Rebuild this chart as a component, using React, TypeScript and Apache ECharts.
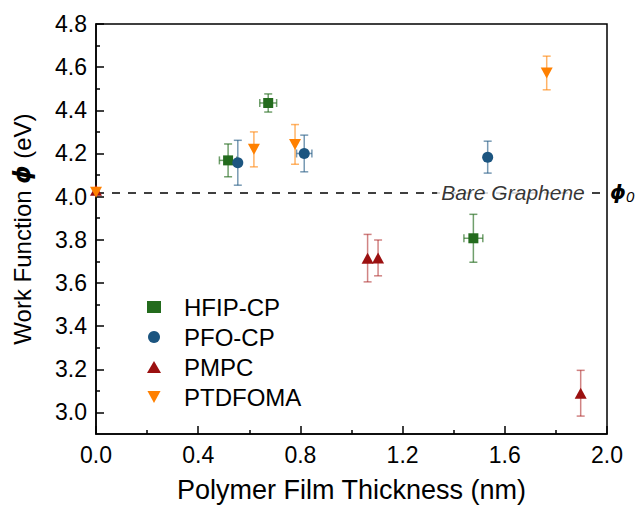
import React, { useEffect, useRef } from "react";
import * as echarts from "echarts";

const FONT = "'Liberation Sans', Arial, Helvetica, sans-serif";

// Bare graphene reference work function
const bareGraphene = 4.02;

// HFIP-CP
const hfipX = [0.517, 0.674, 1.477];
const hfipY = [4.168, 4.434, 3.807];
const hfipYErr = [0.076, 0.042, 0.111];
const hfipXErr = [0.034, 0.033, 0.037];

// PFO-CP
const pfoX = [0.555, 0.815, 1.533];
const pfoY = [4.157, 4.2, 4.183];
const pfoYErr = [0.104, 0.085, 0.074];
const pfoXErr = [0, 0.03, 0];

// PMPC
const pmpcX = [0, 1.063, 1.104, 1.897];
const pmpcY = [4.03, 3.715, 3.716, 3.089];
const pmpcYErr = [0, 0.11, 0.083, 0.106];
const pmpcXErr = [0, 0, 0, 0];

// PTDFOMA
const ptdX = [0, 0.618, 0.779, 1.764];
const ptdY = [4.02, 4.219, 4.242, 4.573];
const ptdYErr = [0, 0.081, 0.092, 0.078];
const ptdXErr = [0, 0, 0, 0];

// axis ticks
const yTicks = [3.0, 3.2, 3.4, 3.6, 3.8, 4.0, 4.2, 4.4, 4.6, 4.8];
const yMinorTicks = [3.1, 3.3, 3.5, 3.7, 3.9, 4.1, 4.3, 4.5, 4.7];
const yMin = 2.9;
const yMax = 4.8;
const xMin = 0;
const xMax = 2.0;
const xInterval = 0.4;

const names = ["HFIP-CP", "PFO-CP", "PMPC", "PTDFOMA"];
const colors = ["#236b1d", "#1c5580", "#9b1010", "#ff8000"];
const errColors = [
  "rgba(35,107,29,0.65)",
  "rgba(28,85,128,0.6)",
  "rgba(170,30,30,0.55)",
  "rgba(255,128,0,0.6)",
];
const INV_TRI = "path://M0,0L12,0L6,11Z";
const symbols = ["rect", "circle", "triangle", INV_TRI];
const symbolSizes: any[] = [10, 11, [12, 11], [12, 11]];

const groups = [
  { x: hfipX, y: hfipY, ye: hfipYErr, xe: hfipXErr },
  { x: pfoX, y: pfoY, ye: pfoYErr, xe: pfoXErr },
  { x: pmpcX, y: pmpcY, ye: pmpcYErr, xe: pmpcXErr },
  { x: ptdX, y: ptdY, ye: ptdYErr, xe: ptdXErr },
];

function errRender(color: string) {
  return (params: any, api: any) => {
    const x = api.value(0);
    const y = api.value(1);
    const ye = api.value(2);
    const xe = api.value(3);
    const cap = 4;
    const children: any[] = [];
    const style = { stroke: color, lineWidth: 1.5, fill: "none" };
    if (ye > 0) {
      const top = api.coord([x, y + ye]);
      const bot = api.coord([x, y - ye]);
      children.push({ type: "line", shape: { x1: top[0], y1: top[1], x2: bot[0], y2: bot[1] }, style });
      children.push({ type: "line", shape: { x1: top[0] - cap, y1: top[1], x2: top[0] + cap, y2: top[1] }, style });
      children.push({ type: "line", shape: { x1: bot[0] - cap, y1: bot[1], x2: bot[0] + cap, y2: bot[1] }, style });
    }
    if (xe > 0) {
      const l = api.coord([x - xe, y]);
      const r = api.coord([x + xe, y]);
      children.push({ type: "line", shape: { x1: l[0], y1: l[1], x2: r[0], y2: r[1] }, style });
      children.push({ type: "line", shape: { x1: l[0], y1: l[1] - cap, x2: l[0], y2: l[1] + cap }, style });
      children.push({ type: "line", shape: { x1: r[0], y1: r[1] - cap, x2: r[0], y2: r[1] + cap }, style });
    }
    return { type: "group", children };
  };
}

export default function App() {
  const ref = useRef<HTMLDivElement>(null);
  useEffect(() => {
    if (!ref.current) return;
    const chart = echarts.init(ref.current, null, { renderer: "svg" });

    const series: any[] = [];
    groups.forEach((g, i) => {
      series.push({
        type: "custom",
        name: names[i] + " err",
        renderItem: errRender(errColors[i]),
        data: g.x.map((xv, j) => [xv, g.y[j], g.ye[j], g.xe[j]]),
        encode: { x: 0, y: 1 },
        z: 2,
        silent: true,
      });
    });
    groups.forEach((g, i) => {
      series.push({
        type: "scatter",
        name: names[i],
        symbol: symbols[i],
        symbolSize: symbolSizes[i],
        itemStyle: { color: colors[i], opacity: 1 },
        data: g.x.map((xv, j) => [xv, g.y[j]]),
        z: 3 + i,
      });
    });
    // dashed bare-graphene line with phi_0 label
    series.push({
      type: "line",
      name: "bare",
      data: [],
      z: 1,
      markLine: {
        silent: true,
        symbol: ["none", "none"],
        lineStyle: { color: "#000", type: [8, 8], width: 1.5 },
        label: {
          show: true,
          position: "end",
          distance: 3,
          formatter: "{p|ϕ}{s|0}",
          rich: {
            p: { fontFamily: "'DejaVu Sans', sans-serif", fontWeight: "bold", fontStyle: "italic", fontSize: 20, color: "#000" },
            s: { fontFamily: FONT, fontStyle: "italic", fontSize: 15, color: "#000", verticalAlign: "bottom", padding: [8, 0, 0, 0] },
          },
        },
        data: [{ yAxis: bareGraphene }],
      },
    });
    // "Bare Graphene" label on the line
    series.push({
      type: "scatter",
      name: "bareText",
      symbolSize: 1,
      itemStyle: { color: "rgba(0,0,0,0)" },
      data: [[1.632, bareGraphene]],
      z: 10,
      silent: true,
      label: {
        show: true,
        position: "inside",
        formatter: "Bare Graphene",
        fontFamily: FONT,
        fontStyle: "italic",
        fontSize: 21,
        color: "#000",
        backgroundColor: "#fff",
        padding: [2, 4, 2, 4],
      },
    });

    chart.setOption({
      animation: false,
      grid: {
        left: 96,
        right: 31,
        top: 24,
        bottom: 72,
        show: true,
        borderColor: "#000",
        borderWidth: 1.5,
        backgroundColor: "transparent",
      },
      legend: {
        orient: "vertical",
        left: 142,
        top: 290,
        itemWidth: 14,
        itemHeight: 12,
        itemGap: 6,
        textStyle: { fontFamily: FONT, fontSize: 24, color: "#000", padding: [0, 0, 0, 18], lineHeight: 24 },
        data: names.map((n, i) => ({
          name: n,
          icon: symbols[i],
          itemStyle: { color: colors[i] },
        })),
        selectedMode: false,
      },
      xAxis: {
        type: "value",
        min: xMin,
        max: xMax,
        interval: xInterval,
        name: "Polymer Film Thickness (nm)",
        nameLocation: "middle",
        nameGap: 42,
        nameTextStyle: { fontFamily: FONT, fontSize: 27, color: "#000" },
        axisLine: { show: true, lineStyle: { color: "#000", width: 1.5 } },
        axisTick: { show: true, inside: true, length: 8, lineStyle: { color: "#000", width: 1.5 } },
        minorTick: { show: true, splitNumber: 2, length: 4, lineStyle: { color: "#000", width: 1.5 } },
        axisLabel: {
          fontFamily: FONT,
          fontSize: 23,
          color: "#000",
          margin: 9,
          formatter: (v: number) => v.toFixed(1),
        },
        splitLine: { show: false },
      },
      yAxis: [
        {
          type: "value",
          min: yMin,
          max: yMax,
          interval: 0.1,
          name: "Work Function {phi|ϕ} (eV)",
          nameLocation: "middle",
          nameGap: 62,
          nameRotate: 90,
          nameTextStyle: {
            fontFamily: FONT,
            fontSize: 24,
            color: "#000",
            rich: {
              phi: { fontFamily: "'DejaVu Sans', sans-serif", fontWeight: "bold", fontStyle: "italic", fontSize: 23, color: "#000" },
            },
          },
          axisLine: { show: true, lineStyle: { color: "#000", width: 1.5 } },
          axisTick: { show: true, inside: true, length: 8, customValues: yTicks, lineStyle: { color: "#000", width: 1.5 } },
          axisLabel: {
            fontFamily: FONT,
            fontSize: 23,
            color: "#000",
            margin: 9,
            customValues: yTicks,
            formatter: (v: number) => v.toFixed(1),
          },
          splitLine: { show: false },
        },
        {
          type: "value",
          min: yMin,
          max: yMax,
          interval: 0.1,
          position: "left",
          axisLine: { show: false },
          axisTick: { show: true, inside: true, length: 4, customValues: yMinorTicks, lineStyle: { color: "#000", width: 1.5 } },
          axisLabel: { show: false },
          splitLine: { show: false },
        },
      ],
      series,
    });
    return () => chart.dispose();
  }, []);
  return <div ref={ref} style={{ position: "fixed", left: 0, top: 0, width: 638, height: 508, background: "#fff" }} />;
}
